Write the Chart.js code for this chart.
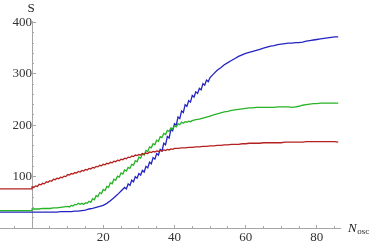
<!DOCTYPE html>
<html>
<head>
<meta charset="utf-8">
<script src="https://cdn.jsdelivr.net/npm/chart.js@4.4.1/dist/chart.umd.min.js"></script>
<style>
  html, body { margin: 0; padding: 0; background: #fff; }
  #wrap { width: 374px; height: 246px; position: relative; }
</style>
</head>
<body>
<div id="wrap"><canvas id="chart"></canvas></div>
<script>
// flat part before N = 0
const nPre = [-9, 0];
const redPre = [76, 76];
const greenPre = [34, 34];
const bluePre = [31, 31];

// N_osc = 0 .. 86
const nMain = Array.from({ length: 87 }, (_, i) => i);

const redVals = [80, 82, 85, 87, 90, 92, 95, 97, 99, 101,
    104, 106, 108, 110, 112, 114, 116, 118, 120, 122,
    124, 126, 128, 130, 132, 134, 136, 138, 140, 142,
    143, 145, 146, 148, 149, 150, 151, 152, 153, 154,
    155, 155, 156, 156, 157, 157, 158, 158, 159, 159,
    160, 160, 161, 161, 162, 162, 163, 163, 163, 164,
    164, 165, 165, 165, 165, 166, 166, 166, 166, 166,
    166, 167, 167, 167, 167, 167, 167, 168, 168, 168,
    168, 168, 168, 168, 168, 168, 167];

const greenVals = [37, 37, 37, 38, 38, 38, 39, 39, 40, 41,
    42, 44, 46, 48, 48, 49, 52, 57, 63, 69,
    75, 81, 88, 95, 101, 107, 113, 118, 124, 131,
    138, 144, 151, 158, 164, 171, 178, 184, 190, 195,
    199, 203, 206, 207, 208, 209, 211, 212, 214, 216,
    218, 220, 222, 224, 226, 227, 229, 230, 231, 232,
    233, 234, 234, 235, 235, 235, 235, 235, 235, 236,
    236, 236, 236, 235, 236, 237, 239, 240, 241, 242,
    242, 243, 243, 243, 243, 243, 243];

const blueVals = [31, 31, 31, 31, 31, 31, 31, 31, 32, 32,
    32, 32, 33, 33, 34, 35, 37, 38, 40, 42,
    44, 48, 53, 59, 65, 72, 79, 86, 93, 100,
    106, 112, 120, 128, 137, 145, 153, 165, 178, 192,
    203, 216, 228, 240, 248, 258, 265, 272, 281, 288,
    293, 300, 307, 312, 318, 322, 326, 330, 334, 337,
    340, 342, 344, 346, 348, 350, 352, 354, 355, 357,
    358, 359, 360, 360, 361, 361, 362, 364, 365, 366,
    367, 368, 369, 370, 371, 372, 372];

// dips between whole N (the saw-tooth ripple)
const redHalfN = Array.from({ length: 40 }, (_, i) => i + 0.5);
const redHalf = [79, 81, 84, 86, 89, 91, 94, 96, 98, 100,
    103, 105, 107, 109, 111, 113, 115, 117, 119, 121,
    123, 125, 127, 129, 131, 133, 135, 137, 139, 141,
    142, 144, 145, 147, 148, 149, 150, 151, 152, 153];

const greenHalfN = Array.from({ length: 35 }, (_, i) => i + 10.5);
const greenHalf = [41, 43, 45, 46, 46, 48, 50, 55, 61, 67,
    73, 79, 86, 93, 99, 105, 111, 116, 122, 129,
    136, 142, 149, 156, 162, 169, 176, 182, 188, 193,
    197, 201, 204, 206, 207];

const blueHalfN = Array.from({ length: 24 }, (_, i) => i + 26.5);
const blueHalf = [76, 83, 90, 97, 103, 109, 117, 125, 134, 142,
    150, 162, 175, 189, 200, 213, 225, 237, 245, 255,
    262, 269, 278, 285];

const xMajor = [20, 40, 60, 80];
const xMinor = [-5, 5, 10, 15, 25, 30, 35, 45, 50, 55, 65, 70, 75, 85];
const yMajor = [100, 200, 300, 400];
const yMinor = [20, 40, 60, 80, 120, 140, 160, 180, 220, 240, 260, 280, 320, 340, 360, 380];

const axisColor = '#a6a6a6';
const labelFont = { family: '"Liberation Serif", "DejaVu Serif", serif', size: 13 };

function toPoints(pre, main, halfN, half) {
    const pts = nMain.map((n, i) => ({ x: n, y: main[i] }))
        .concat(halfN.map((n, i) => ({ x: n, y: half[i] })))
        .sort((a, b) => a.x - b.x);
    return nPre.map((n, i) => ({ x: n, y: pre[i] })).concat(pts);
}

function setTicks(list) {
    return function (scale) {
        scale.ticks = list.map(v => ({ value: v }));
    };
}

// axis names drawn like Mathematica labels
const axisNames = {
    id: 'axisNames',
    afterDraw(chart) {
        const ctx = chart.ctx;
        const xs = chart.scales.x;
        const ys = chart.scales.y;
        const y0 = ys.getPixelForValue(0);
        ctx.save();
        ctx.fillStyle = '#222';
        ctx.font = '13px "Liberation Serif"';
        ctx.textAlign = 'center';
        ctx.textBaseline = 'alphabetic';
        ctx.fillText('S', xs.getPixelForValue(0) - 1, 12);
        ctx.textAlign = 'left';
        ctx.font = 'italic 13px "Liberation Serif"';
        ctx.fillText('N', xs.right + 8, y0 + 4);
        const w = ctx.measureText('N').width;
        ctx.font = '9px "Liberation Serif"';
        ctx.fillText('osc', xs.right + 8 + w + 0.5, y0 + 6);
        ctx.restore();
    }
};

const ctx = document.getElementById('chart').getContext('2d');
const myChart = new Chart(ctx, {
    type: 'line',
    data: {
        datasets: [
            { label: 'red', data: toPoints(redPre, redVals, redHalfN, redHalf), borderColor: '#b3201f' },
            { label: 'green', data: toPoints(greenPre, greenVals, greenHalfN, greenHalf), borderColor: '#27b327' },
            { label: 'blue', data: toPoints(bluePre, blueVals, blueHalfN, blueHalf), borderColor: '#2424c2' }
        ]
    },
    options: {
        responsive: true,
        maintainAspectRatio: false,
        animation: false,
        layout: { padding: { left: 0, right: 34, top: 21, bottom: 18 } },
        elements: {
            line: { borderWidth: 1.3, tension: 0, fill: false },
            point: { radius: 0 }
        },
        plugins: { legend: { display: false }, tooltip: { enabled: false } },
        scales: {
            x: {
                type: 'linear',
                position: { y: 0 },
                min: -9,
                max: 86.5,
                afterBuildTicks: setTicks(xMajor),
                ticks: { autoSkip: false, maxRotation: 0, color: '#333', font: labelFont, padding: 6 },
                grid: { drawOnChartArea: false, drawTicks: true, tickLength: -4, color: axisColor },
                border: { display: true, color: axisColor, width: 1 }
            },
            x2: {
                type: 'linear',
                position: { y: 0 },
                min: -9,
                max: 86.5,
                afterBuildTicks: setTicks(xMinor),
                ticks: { display: false },
                grid: { drawOnChartArea: false, drawTicks: true, tickLength: -2, color: axisColor },
                border: { display: false }
            },
            y: {
                type: 'linear',
                position: { x: 0 },
                min: 0,
                max: 403,
                afterBuildTicks: setTicks(yMajor),
                ticks: { autoSkip: false, color: '#333', font: labelFont, padding: 8 },
                grid: { drawOnChartArea: false, drawTicks: true, tickLength: -4, color: axisColor },
                border: { display: true, color: axisColor, width: 1 }
            },
            y2: {
                type: 'linear',
                position: { x: 0 },
                min: 0,
                max: 403,
                afterBuildTicks: setTicks(yMinor),
                ticks: { display: false },
                grid: { drawOnChartArea: false, drawTicks: true, tickLength: -2, color: axisColor },
                border: { display: false }
            }
        }
    },
    plugins: [axisNames]
});
</script>
</body>
</html>
